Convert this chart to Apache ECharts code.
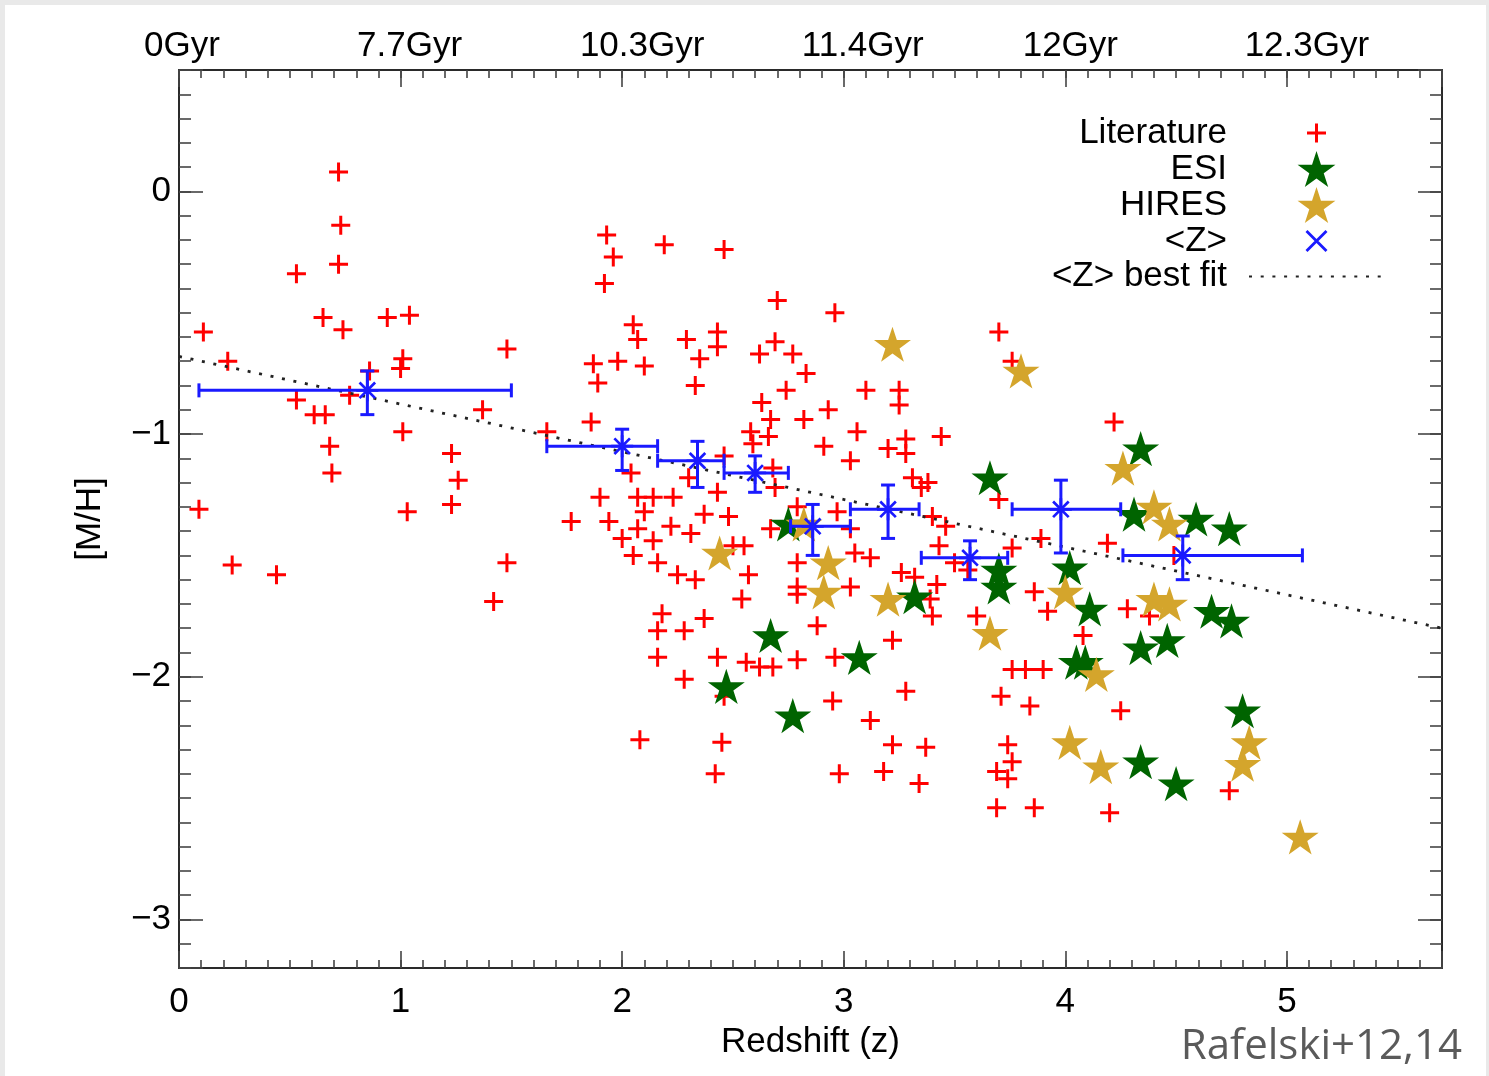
<!DOCTYPE html>
<html><head><meta charset="utf-8">
<script src="https://cdn.jsdelivr.net/npm/echarts@6/dist/echarts.min.js"></script>
<style>html,body{margin:0;padding:0;background:#e9e9e9;} #c{width:1489px;height:1076px;}</style>
</head><body><div id="c"></div>
<script>
// ---- data ----
const topTickLabels = ['0Gyr','7.7Gyr','10.3Gyr','11.4Gyr','12Gyr','12.3Gyr'];

const literature = [
[0.72,0.08],[0.73,-0.14],[0.72,-0.30],[0.53,-0.34],[0.65,-0.52],[0.74,-0.57],[0.11,-0.58],[0.94,-0.52],[1.04,-0.51],[1.48,-0.65],
[0.22,-0.70],[1.01,-0.69],[1.00,-0.73],[0.86,-0.74],[0.77,-0.84],[0.53,-0.86],[0.61,-0.92],[0.66,-0.92],[1.37,-0.90],[1.01,-0.99],
[1.66,-0.99],[0.68,-1.05],[1.23,-1.08],[1.26,-1.19],[0.69,-1.16],[1.23,-1.29],[0.09,-1.31],[1.03,-1.32],[1.77,-1.36],[0.24,-1.54],
[1.48,-1.53],[0.44,-1.58],[1.42,-1.69],
[1.93,-0.18],[1.96,-0.27],[1.92,-0.38],[2.19,-0.22],[2.46,-0.24],[2.70,-0.45],[2.96,-0.50],[2.05,-0.55],[2.07,-0.61],[2.29,-0.61],
[2.43,-0.58],[2.43,-0.64],[2.35,-0.69],[1.87,-0.71],[1.98,-0.70],[2.10,-0.72],[1.89,-0.79],[2.33,-0.80],[2.62,-0.67],[2.69,-0.62],
[2.77,-0.67],[2.83,-0.75],[2.74,-0.82],[2.63,-0.87],[2.67,-0.94],[2.93,-0.90],[2.82,-0.94],[1.86,-0.95],[2.58,-0.99],[2.66,-1.01],
[2.59,-1.04],[2.91,-1.05],[2.04,-1.16],[2.30,-1.18],[2.46,-1.09],[2.68,-1.14],[2.69,-1.22],[2.43,-1.24],[1.90,-1.26],[2.07,-1.26],
[2.14,-1.26],[2.23,-1.26],[2.10,-1.32],[2.37,-1.33],[2.48,-1.34],[1.94,-1.36],[2.07,-1.39],[2.22,-1.38],[2.31,-1.41],[2.00,-1.43],
[2.14,-1.44],[2.05,-1.50],[2.16,-1.53],[2.25,-1.58],[2.33,-1.60],[2.57,-1.58],[2.54,-1.68],[2.79,-1.30],[2.97,-1.32],[2.67,-1.39],
[2.50,-1.46],[2.55,-1.46],[2.79,-1.53],[2.79,-1.63],[2.79,-1.66],[2.18,-1.74],[2.37,-1.76],[2.88,-1.79],
[2.16,-1.81],[2.28,-1.81],[2.16,-1.92],[2.43,-1.92],[2.56,-1.94],[2.62,-1.96],[2.68,-1.96],[2.79,-1.93],[2.96,-1.92],[2.28,-2.01],
[2.46,-2.08],[2.95,-2.10],[2.08,-2.26],[2.45,-2.27],[2.42,-2.40],
[3.70,-0.58],[3.76,-0.70],[3.10,-0.82],[3.25,-0.82],[3.25,-0.88],[3.06,-0.99],[3.44,-1.01],[3.28,-1.02],[3.20,-1.06],[3.28,-1.08],
[3.03,-1.11],[4.22,-0.95],[3.31,-1.18],[3.38,-1.20],[3.35,-1.22],[3.70,-1.27],[3.40,-1.34],[3.46,-1.38],[3.43,-1.46],[3.03,-1.39],
[3.05,-1.49],[3.12,-1.51],[3.50,-1.53],[3.56,-1.56],[3.76,-1.47],[3.89,-1.43],[4.19,-1.45],[3.03,-1.63],[3.26,-1.57],[3.32,-1.59],
[3.42,-1.62],[3.39,-1.68],[3.40,-1.75],[3.22,-1.85],[3.60,-1.75],[3.86,-1.65],[3.92,-1.73],[4.28,-1.72],[4.08,-1.83],[3.76,-1.97],
[3.82,-1.97],[3.90,-1.97],[3.71,-2.08],[3.84,-2.12],[4.25,-2.14],[3.28,-2.06],[3.12,-2.18],[3.22,-2.28],[3.37,-2.29],[2.98,-2.40],
[3.18,-2.39],[3.34,-2.44],[3.74,-2.28],[3.76,-2.35],[3.69,-2.39],[3.74,-2.42],[3.69,-2.54],[3.86,-2.54],[4.20,-2.56],
[4.49,-1.50],[4.38,-1.75],[4.74,-2.47]
];

const esi = [
[2.75,-1.37],[2.67,-1.83],[2.47,-2.04],[2.77,-2.16],[3.07,-1.92],[3.32,-1.67],[3.66,-1.18],[3.70,-1.56],[3.70,-1.63],[4.02,-1.55],
[4.11,-1.72],[4.05,-1.94],[4.09,-1.94],[4.34,-1.06],[4.31,-1.33],[4.59,-1.35],[4.74,-1.39],[4.66,-1.73],[4.75,-1.77],[4.34,-1.88],
[4.46,-1.85],[4.80,-2.14],[4.34,-2.35],[4.50,-2.44]
];

const hires = [
[3.22,-0.63],[3.80,-0.74],[2.44,-1.49],[2.93,-1.53],[2.91,-1.65],[3.20,-1.68],[2.82,-1.37],[3.66,-1.82],[4.00,-1.65],[4.14,-1.99],
[4.02,-2.27],[4.16,-2.37],[4.26,-1.14],[4.40,-1.30],[4.47,-1.37],[4.40,-1.68],[4.47,-1.70],[4.83,-2.27],[4.80,-2.36],[5.06,-2.66]
];

const meanZ    = [0.85, 2.00, 2.34, 2.60, 2.86, 3.20, 3.57, 3.98, 4.53];
const meanMH   = [-0.82, -1.05, -1.11, -1.16, -1.38, -1.31, -1.51, -1.31, -1.50];
const meanZLo  = [0.09, 1.66, 2.16, 2.46, 2.76, 3.03, 3.35, 3.76, 4.26];
const meanZHi  = [1.50, 2.16, 2.46, 2.75, 3.03, 3.34, 3.74, 4.25, 5.07];
const meanMHHi = [-0.74, -0.98, -1.03, -1.09, -1.29, -1.21, -1.44, -1.19, -1.42];
const meanMHLo = [-0.92, -1.15, -1.22, -1.24, -1.50, -1.43, -1.60, -1.49, -1.60];

const fitZ  = [0, 5.7];
const fitMH = [-0.68, -1.80];

// ---- styling helpers (shapes, label nudges) ----
const topLabelNudge = [6, 18, 40, 38, 10, 40]; // left padding (px) of each top label

function segPath(segs, w, box) {
  let s = 'path://M0 0 M' + box + ' ' + box + ' ';
  segs.forEach(([x1, y1, x2, y2]) => {
    const dx = x2 - x1, dy = y2 - y1, L = Math.hypot(dx, dy);
    const nx = -dy / L * w / 2, ny = dx / L * w / 2;
    const f = v => v.toFixed(3);
    s += 'M' + f(x1 + nx) + ' ' + f(y1 + ny) + ' L' + f(x2 + nx) + ' ' + f(y2 + ny) +
         ' L' + f(x2 - nx) + ' ' + f(y2 - ny) + ' L' + f(x1 - nx) + ' ' + f(y1 - ny) + ' Z ';
  });
  return s;
}
function starPath() {
  const R = 50, r = R * 0.382;
  let s = 'path://';
  for (let k = 0; k < 10; k++) {
    const a = (-90 + k * 36) * Math.PI / 180;
    const rr = k % 2 ? r : R;
    s += (k ? 'L' : 'M') + (50 + rr * Math.cos(a)).toFixed(3) + ' ' + (50 + rr * Math.sin(a)).toFixed(3) + ' ';
  }
  return s + 'Z';
}
const plusSym = segPath([[8.5, 18, 27.5, 18], [18, 8.5, 18, 27.5]], 3, 36);
const d = 7.8;
const asteriskSym = segPath([[1, 12, 23, 12], [12, 1, 12, 23], [12 - d, 12 - d, 12 + d, 12 + d], [12 - d, 12 + d, 12 + d, 12 - d]], 2.7, 24);
const crossSym = segPath([[8, 8, 28, 28], [8, 28, 28, 8]], 2.8, 36);
const starSym = starPath();

const FONT = 'Liberation Sans';
const FS = 35;
const BLUE = '#1a1aff';
const isInt = v => Math.abs(v - Math.round(v)) < 1e-6;

const lineCol = '#2a2a2a';
const topRich = {};
topLabelNudge.forEach((p, i) => { topRich['t' + i] = { padding: [0, 0, 0, p], fontSize: FS, fontFamily: FONT, color: '#000' }; });

function xAxisDef(pos, major) {
  return {
    type: 'value', position: pos, min: fitZ[0], max: fitZ[1], interval: major ? 1 : 0.1,
    axisLine: { show: major, onZero: false, lineStyle: { color: lineCol, width: 2 } },
    axisTick: { show: true, inside: true, length: major ? 17 : 8, lineStyle: { color: '#444', width: 1.6 } },
    splitLine: { show: false },
    axisLabel: major ? {
      show: true, fontSize: FS, fontFamily: FONT, color: '#000',
      margin: pos === 'bottom' ? 17 : 6,
      rich: pos === 'top' ? topRich : undefined,
      formatter: pos === 'bottom'
        ? (v => isInt(v) ? String(Math.round(v)) : '')
        : (v => {
            if (!isInt(v)) return '';
            const i = Math.round(v);
            return topTickLabels[i] ? '{t' + i + '|' + topTickLabels[i] + '}' : '';
          })
    } : { show: false }
  };
}
function yAxisDef(pos, major) {
  const a = {
    type: 'value', position: pos, min: -3.2, max: 0.5,
    axisLine: { show: major, onZero: false, lineStyle: { color: lineCol, width: 2 } },
    axisTick: { show: true, inside: true, length: major ? 24 : 12, lineStyle: { color: '#444', width: 1.6 } },
    splitLine: { show: false },
    axisLabel: (major && pos === 'left') ? {
      show: true, fontSize: FS, fontFamily: FONT, color: '#000', margin: 8,
      formatter: v => isInt(v) ? String(Math.round(v)).replace('-', '\u2212') : ''
    } : { show: false }
  };
  if (major) { a.minInterval = 1; a.maxInterval = 1; } else { a.interval = 0.1; }
  return a;
}

const xAxes = [xAxisDef('bottom', true), xAxisDef('bottom', false), xAxisDef('top', true), xAxisDef('top', false)];
Object.assign(xAxes[0], { name: 'Redshift (z)', nameLocation: 'middle', nameGap: 54,
  nameTextStyle: { fontSize: FS, fontFamily: FONT, color: '#000' } });
const yAxes = [yAxisDef('left', true), yAxisDef('left', false), yAxisDef('right', true), yAxisDef('right', false)];
Object.assign(yAxes[0], { name: '[M/H]', nameLocation: 'middle', nameGap: 71, nameRotate: 90,
  nameTextStyle: { fontSize: FS, fontFamily: FONT, color: '#000' } });

const meanRows = meanZ.map((z, i) => [z, meanMH[i], meanZLo[i], meanZHi[i], meanMHHi[i], meanMHLo[i]]);

const chart = echarts.init(document.getElementById('c'), null, { renderer: 'canvas', width: 1489, height: 1076 });
chart.setOption({
  animation: false,
  backgroundColor: '#e9e9e9',
  graphic: { elements: [{ type: 'rect', z: -100, silent: true, shape: { x: 5, y: 5, width: 1481, height: 1080 }, style: { fill: '#ffffff' } }] },
  title: { text: 'Rafelski+12,14', right: 22, top: 1021, textStyle: { fontFamily: 'Open Sans', fontSize: 42, fontWeight: 'normal', color: '#5a5a5a' } },
  grid: { left: 179, top: 70, right: 47, bottom: 108, containLabel: false },
  xAxis: xAxes,
  yAxis: yAxes,
  legend: {
    orient: 'vertical', align: 'right', right: 104, top: 115, padding: 0,
    itemWidth: 135, itemHeight: 36, itemGap: 0, selectedMode: false,
    textStyle: { fontSize: FS, fontFamily: FONT, color: '#000', padding: [0, 17, 0, 0] },
    data: ['Literature', 'ESI', 'HIRES', { name: '<Z>', icon: crossSym },
      { name: '<Z> best fit', itemStyle: { color: 'rgba(0,0,0,0)', opacity: 0, borderWidth: 0 } }]
  },
  series: [
    { type: 'scatter', name: 'Literature', data: literature, symbol: plusSym, symbolSize: 36, symbolKeepAspect: true,
      itemStyle: { color: '#ff0000', opacity: 1 }, z: 2, silent: true },
    { type: 'scatter', name: 'ESI', data: esi, symbol: starSym, symbolSize: 37, symbolKeepAspect: true,
      itemStyle: { color: '#006400', opacity: 1 }, z: 3, silent: true },
    { type: 'scatter', name: 'HIRES', data: hires, symbol: starSym, symbolSize: 37, symbolKeepAspect: true,
      itemStyle: { color: '#d4a52c', opacity: 1 }, z: 4, silent: true },
    { type: 'line', name: '<Z> best fit', data: fitZ.map((z, i) => [z, fitMH[i]]), symbol: 'none', showSymbol: false,
      lineStyle: { color: '#222', width: 2.8, type: [3, 8.7] }, z: 5, silent: true },
    { type: 'custom', name: '<Z> errors', data: meanRows, encode: { x: 0, y: 1 }, z: 6, silent: true,
      renderItem: (params, api) => {
        const z = api.value(0), m = api.value(1);
        const pL = api.coord([api.value(2), m]), pR = api.coord([api.value(3), m]);
        const pT = api.coord([z, api.value(4)]), pB = api.coord([z, api.value(5)]);
        const c = 7;
        const st = { stroke: BLUE, lineWidth: 3, fill: null };
        const ln = (x1, y1, x2, y2) => ({ type: 'line', shape: { x1, y1, x2, y2 }, style: st });
        return { type: 'group', children: [
          ln(pL[0], pL[1], pR[0], pR[1]),
          ln(pL[0], pL[1] - c, pL[0], pL[1] + c),
          ln(pR[0], pR[1] - c, pR[0], pR[1] + c),
          ln(pT[0], pT[1], pB[0], pB[1]),
          ln(pT[0] - c, pT[1], pT[0] + c, pT[1]),
          ln(pB[0] - c, pB[1], pB[0] + c, pB[1])
        ] };
      } },
    { type: 'scatter', name: '<Z>', data: meanZ.map((z, i) => [z, meanMH[i]]), symbol: asteriskSym, symbolSize: 24,
      symbolKeepAspect: true, itemStyle: { color: BLUE, opacity: 1 }, z: 7, silent: true }
  ]
});
</script>
</body></html>
